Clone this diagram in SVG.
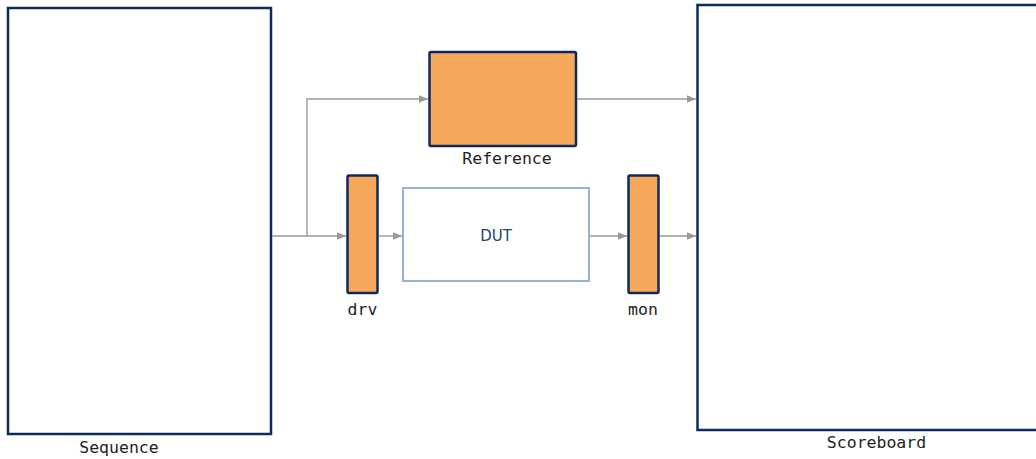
<svg xmlns="http://www.w3.org/2000/svg" width="1036" height="459" viewBox="0 0 1036 459">
<style>
.big{fill:#ffffff;stroke:#0c2a5e;stroke-width:2.5}
.blk{fill:#f5a85a;stroke:#0c2a5e;stroke-width:2.5}
.dut{fill:#ffffff;stroke:#94b2da;stroke-width:2}
.lbl{font-family:"DejaVu Sans Mono",monospace;font-size:16.5px;fill:#222222;text-anchor:middle}
.dutt{font-family:"DejaVu Sans",sans-serif;font-size:15px;fill:#1f4470;text-anchor:middle}
.wire{fill:none;stroke:#999999;stroke-width:1.4}
</style>
<defs>
<marker id="ah" markerWidth="9" markerHeight="8" refX="9" refY="4" orient="auto" markerUnits="userSpaceOnUse">
<path d="M0,0.3 L9,4 L0,7.7 Z" fill="#999999"/>
</marker>
</defs>
<rect width="1036" height="459" fill="#ffffff"/>
<g id="sequence">
<rect class="big" x="8" y="8" width="263" height="426"/>
<text class="lbl" x="119" y="453">Sequence</text>
</g>
<g id="scoreboard">
<rect class="big" x="697.5" y="5" width="345" height="425"/>
<text class="lbl" x="876.5" y="448">Scoreboard</text>
</g>
<g id="reference">
<rect class="blk" x="429.5" y="52" width="146.5" height="94" rx="1.5"/>
<text class="lbl" x="507" y="164">Reference</text>
</g>
<g id="drv">
<rect class="blk" x="347.5" y="175.5" width="30" height="117.5" rx="1.5"/>
<text class="lbl" x="362.5" y="315">drv</text>
</g>
<g id="dut">
<rect class="dut" x="403" y="188" width="186" height="93"/>
<text class="dutt" x="496" y="241">DUT</text>
</g>
<g id="mon">
<rect class="blk" x="628.5" y="175.5" width="30" height="117.5" rx="1.5"/>
<text class="lbl" x="643" y="315">mon</text>
</g>
<g id="connectors">
<path class="wire" d="M272,236 H346" marker-end="url(#ah)"/>
<path class="wire" d="M307,236 V99 H428" marker-end="url(#ah)"/>
<path class="wire" d="M577,99 H696" marker-end="url(#ah)"/>
<path class="wire" d="M379,236 H402" marker-end="url(#ah)"/>
<path class="wire" d="M590,236 H627" marker-end="url(#ah)"/>
<path class="wire" d="M660,236 H696" marker-end="url(#ah)"/>
</g>
</svg>
